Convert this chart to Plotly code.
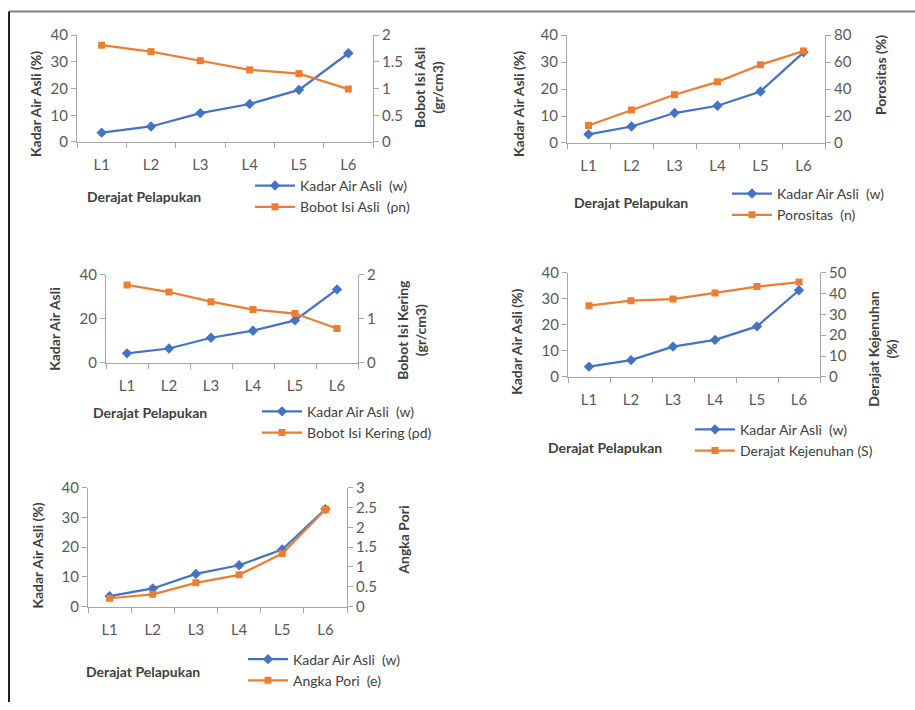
import plotly.graph_objects as go

W, H = 915, 710

categories = ["L1", "L2", "L3", "L4", "L5", "L6"]

# Kadar Air Asli (w) as read in each panel
w_c1 = [3.5, 5.8, 10.8, 14.2, 19.5, 33.2]
w_c2 = [3.2, 6.1, 11.1, 13.8, 19.1, 33.6]
w_c3 = [4.3, 6.5, 11.4, 14.6, 19.3, 33.4]
w_c4 = [3.9, 6.4, 11.6, 14.2, 19.4, 33.3]
w_c5 = [3.5, 6.1, 11.0, 13.9, 19.2, 32.8]

bobot_isi_asli = [1.81, 1.69, 1.52, 1.35, 1.28, 0.99]
porositas = [13.0, 24.5, 35.8, 45.3, 58.0, 68.2]
bobot_isi_kering = [1.77, 1.61, 1.39, 1.21, 1.12, 0.78]
derajat_kejenuhan = [34.2, 36.6, 37.4, 40.3, 43.4, 45.6]
angka_pori = [0.21, 0.31, 0.60, 0.80, 1.34, 2.45]

BLUE = "#4472C4"
ORANGE = "#ED7D31"
TXT = "#404040"
AX = "#a6a6a6"
FONT = "Lato"


def px(x):
    return x / W


def py(y):
    # compensate the vertical placement observed in the rendered page
    ys = (y - 9.9) / 0.9755
    return min(1.0, max(0.0, 1 - ys / H))


panels = [
    dict(dom_x=(77, 373), dom_y=(35, 142), w=w_c1, s=bobot_isi_asli,
         sname="Bobot Isi Asli  (\u03c1n)", lrange=[0, 40], ldt=10, rrange=[0, 2], rdt=0.5,
         ltitle="Kadar Air Asli (%)", ltpos=(35, 104),
         rtitle="Bobot Isi Asli<br>(gr/cm3)", rtpos=(428, 88),
         xtitle_pos=(144, 197), leg=(250, 186), gap=0),
    dict(dom_x=(567, 825), dom_y=(35, 143), w=w_c2, s=porositas,
         sname="Porositas  (n)", lrange=[0, 40], ldt=10, rrange=[0, 80], rdt=20,
         ltitle="Kadar Air Asli (%)", ltpos=(518, 104),
         rtitle="Porositas (%)", rtpos=(880, 75),
         xtitle_pos=(631, 203), leg=(727, 194), gap=8),
    dict(dom_x=(106, 358), dom_y=(275, 363), w=w_c3, s=bobot_isi_kering,
         sname="Bobot Isi Kering (\u03c1d)", lrange=[0, 40], ldt=20, rrange=[0, 2], rdt=1,
         ltitle="Kadar Air Asli", ltpos=(55, 329),
         rtitle="Bobot Isi Kering<br>(gr/cm3)", rtpos=(412, 330),
         xtitle_pos=(150, 413), leg=(257, 412), gap=0),
    dict(dom_x=(568, 820), dom_y=(273, 377), w=w_c4, s=derajat_kejenuhan,
         sname="Derajat Kejenuhan (S)", lrange=[0, 40], ldt=10, rrange=[0, 50], rdt=10,
         ltitle="Kadar Air Asli (%)", ltpos=(517, 342),
         rtitle="Derajat Kejenuhan<br>(%)", rtpos=(883, 349),
         xtitle_pos=(605, 448), leg=(690, 430), gap=0),
    dict(dom_x=(88, 347), dom_y=(488, 607), w=w_c5, s=angka_pori,
         sname="Angka Pori  (e)", lrange=[0, 40], ldt=10, rrange=[0, 3], rdt=0.5,
         ltitle="Kadar Air Asli (%)", ltpos=(38, 556),
         rtitle="Angka Pori", rtpos=(404, 541),
         xtitle_pos=(143, 672), leg=(243, 660), gap=0),
]

fig = go.Figure()
layout = dict(
    width=W, height=H, margin=dict(l=0, r=0, t=0, b=0),
    paper_bgcolor="white", plot_bgcolor="rgba(0,0,0,0)",
    font=dict(family=FONT, color=TXT),
    annotations=[], shapes=[],
)

tickfont = dict(family=FONT, size=15, color="#595959")

for i, p in enumerate(panels, start=1):
    xa = "xaxis" if i == 1 else f"xaxis{i}"
    xr = "x" if i == 1 else f"x{i}"
    yl_n = 2 * i - 1
    yr_n = 2 * i
    yla = "yaxis" if yl_n == 1 else f"yaxis{yl_n}"
    ylr = "y" if yl_n == 1 else f"y{yl_n}"
    yra = f"yaxis{yr_n}"
    yrr = f"y{yr_n}"
    lg = "legend" if i == 1 else f"legend{i}"

    dx = [px(p["dom_x"][0]), px(p["dom_x"][1])]
    dy = [py(p["dom_y"][1]), py(p["dom_y"][0])]

    layout[xa] = dict(domain=dx, anchor=ylr, type="category", range=[-0.5, 5.5],
                      showline=True, linecolor=AX, linewidth=1, ticks="outside",
                      tickson="boundaries", ticklen=5, tickcolor=AX,
                      showgrid=False, zeroline=False, tickfont=tickfont, ticklabelstandoff=9)
    layout[yla] = dict(domain=dy, anchor=xr, range=p["lrange"], dtick=p["ldt"], tick0=0,
                       showline=True, linecolor=AX, linewidth=1, ticks="outside",
                       ticklen=5, tickcolor=AX, showgrid=False, zeroline=False,
                       tickfont=tickfont)
    layout[yra] = dict(domain=dy, anchor=xr, overlaying=ylr, side="right",
                       range=p["rrange"], dtick=p["rdt"], tick0=0,
                       showline=True, linecolor=AX, linewidth=1, ticks="outside",
                       ticklen=5, tickcolor=AX, showgrid=False, zeroline=False,
                       tickfont=tickfont)

    fig.add_trace(go.Scatter(
        x=categories, y=p["w"], xaxis=xr, yaxis=ylr, legend=lg,
        name="Kadar Air Asli  (w)", mode="lines+markers",
        line=dict(color=BLUE, width=2.25),
        marker=dict(symbol="diamond", size=8, color=BLUE),
        legendgroup=f"a{i}"))
    fig.add_trace(go.Scatter(
        x=categories, y=p["s"], xaxis=xr, yaxis=yrr, legend=lg,
        name=p["sname"], mode="lines+markers",
        line=dict(color=ORANGE, width=2.25),
        marker=dict(symbol="square", size=7, color=ORANGE),
        legendgroup=f"b{i}"))

    layout[lg] = dict(x=px(p["leg"][0]), y=py(p["leg"][1] - 16), xanchor="left", yanchor="top",
                      bgcolor="rgba(0,0,0,0)", font=dict(family=FONT, size=14, color=TXT),
                      itemwidth=40, tracegroupgap=p["gap"], traceorder="normal")

    bold = dict(family=FONT, size=14, color=TXT, weight="bold")
    layout["annotations"].append(dict(
        text=p["ltitle"], x=px(p["ltpos"][0]), y=py(p["ltpos"][1]), xref="paper", yref="paper",
        textangle=-90, showarrow=False, xanchor="center", yanchor="middle", font=bold))
    layout["annotations"].append(dict(
        text=p["rtitle"], x=px(p["rtpos"][0]), y=py(p["rtpos"][1]), xref="paper", yref="paper",
        textangle=-90, showarrow=False, xanchor="center", yanchor="middle", font=bold))
    layout["annotations"].append(dict(
        text="Derajat Pelapukan", x=px(p["xtitle_pos"][0]), y=py(p["xtitle_pos"][1]),
        xref="paper", yref="paper", showarrow=False, xanchor="center", yanchor="middle",
        font=bold))

# outer frame of the figure
layout["shapes"].append(dict(type="line", xref="paper", yref="paper",
                             x0=px(9), x1=1, y0=0.998, y1=0.998,
                             line=dict(color="#7f7f7f", width=2)))
layout["shapes"].append(dict(type="line", xref="paper", yref="paper",
                             x0=px(9), x1=px(9), y0=0.998, y1=0,
                             line=dict(color="#202020", width=2)))

fig.update_layout(**layout)
fig.write_html("out.html")
